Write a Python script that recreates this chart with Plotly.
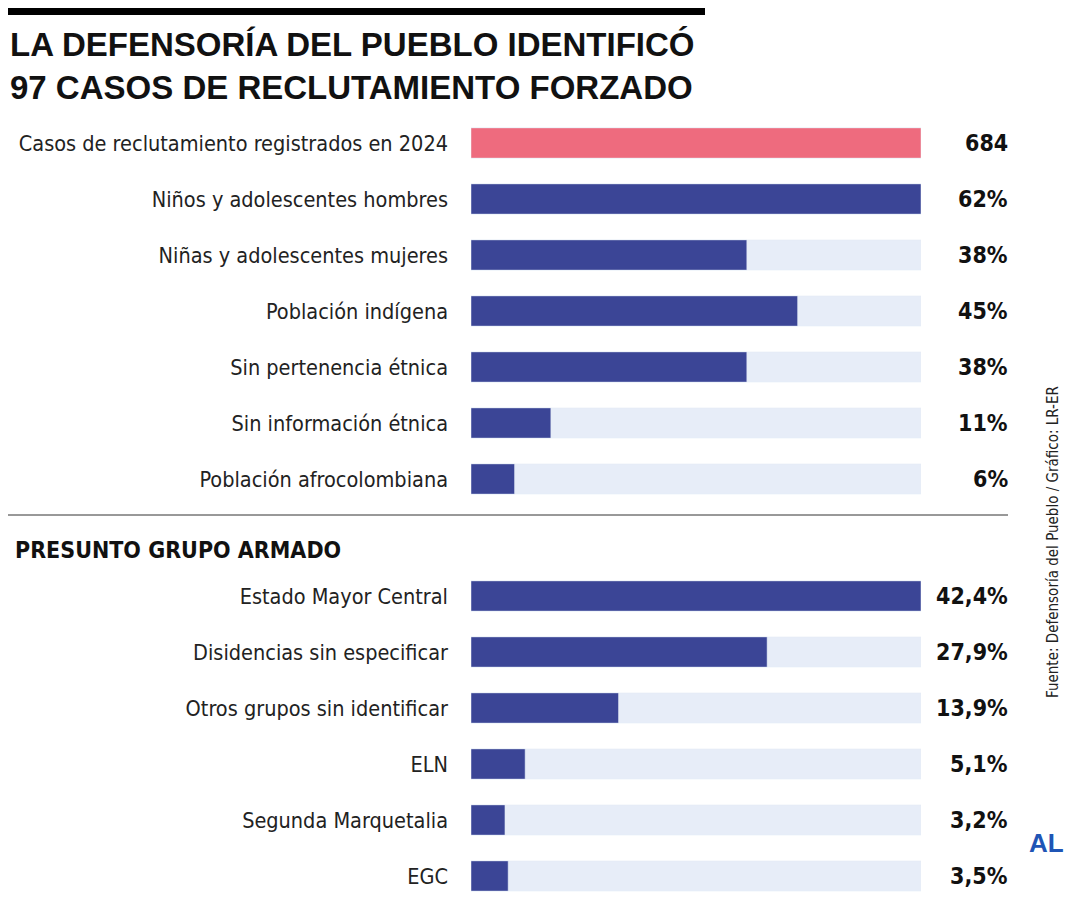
import plotly.graph_objects as go

cats1 = ["Casos de reclutamiento registrados en 2024", "Niños y adolescentes hombres",
         "Niñas y adolescentes mujeres", "Población indígena", "Sin pertenencia étnica",
         "Sin información étnica", "Población afrocolombiana"]
vals1 = [62, 62, 38, 45, 38, 11, 6]
labels1 = ["684", "62%", "38%", "45%", "38%", "11%", "6%"]
cats2 = ["Estado Mayor Central", "Disidencias sin especificar", "Otros grupos sin identificar",
         "ELN", "Segunda Marquetalia", "EGC"]
vals2 = [42.4, 27.9, 13.9, 5.1, 3.2, 3.5]
labels2 = ["42,4%", "27,9%", "13,9%", "5,1%", "3,2%", "3,5%"]

NAVY = "#3B4596"; PINK = "#EE6B7E"; TRACK = "#E7EDF8"
FONT = "DejaVu Sans Condensed"
W, H = 1080, 900
OFF = 8
def px(x): return (x - OFF) / W
def py(y): return 1 - (y - OFF) / H

fig = go.Figure()
def add(cats, vals, labels, xa, ya, maxv, colors):
    idx = list(range(len(cats)))
    fig.add_trace(go.Bar(y=idx, x=[maxv]*len(cats), orientation="h", marker_color=TRACK,
                         width=0.54, xaxis=xa, yaxis=ya, hoverinfo="skip", showlegend=False))
    fig.add_trace(go.Bar(y=idx, x=vals, orientation="h", marker_color=colors,
                         width=0.54, xaxis=xa, yaxis=ya, showlegend=False))
    for i, t in zip(idx, labels):
        fig.add_annotation(x=1.0, xref="x domain" if xa == "x" else "x2 domain", y=i, yref=ya,
                           text=f"<b>{t}</b>", showarrow=False, xanchor="right", xshift=89,
                           font=dict(family=FONT, size=23, color="#111"))

add(cats1, vals1, labels1, "x", "y", 62, [PINK] + [NAVY]*6)
add(cats2, vals2, labels2, "x2", "y2", 42.4, [NAVY]*6)

ax = dict(domain=[px(471), px(921)], visible=False, fixedrange=True, automargin=False)
tf = dict(family=FONT, size=21.5, color="#222")
bot = py(904)
fig.update_layout(
    width=W, height=H, margin=dict(l=0, r=0, t=0, b=0, autoexpand=False), barmode="overlay",
    paper_bgcolor="white", plot_bgcolor="white",
    xaxis=dict(ax, range=[0, 62]), xaxis2=dict(ax, range=[0, 42.4], anchor="y2"),
    yaxis=dict(domain=[py(507), py(115)], range=[6.5, -0.5], tickvals=list(range(7)),
               ticktext=cats1, showgrid=False, zeroline=False, ticklabelstandoff=22, tickfont=tf,
               automargin=False),
    yaxis2=dict(domain=[bot, py(568)], range=[5.5, -0.5], tickvals=list(range(6)),
                ticktext=cats2, showgrid=False, zeroline=False, ticklabelstandoff=22,
                tickfont=tf, anchor="x2", automargin=False),
)
fig.add_shape(type="rect", xref="paper", yref="paper", x0=0, x1=px(705), y0=1 - 7/H, y1=1,
              fillcolor="black", line_width=0)
fig.add_shape(type="line", xref="paper", yref="paper", x0=0, x1=px(1008), y0=py(515), y1=py(515),
              line=dict(color="#333", width=1))
fig.add_annotation(xref="paper", yref="paper", x=0, y=py(24), xanchor="left", yanchor="top",
                   align="left", showarrow=False,
                   text="<b>LA DEFENSORÍA DEL PUEBLO IDENTIFICÓ<br>97 CASOS DE RECLUTAMIENTO FORZADO</b>",
                   font=dict(family="Liberation Sans", size=33, color="#111"))
fig.add_annotation(xref="paper", yref="paper", x=px(13), y=py(550), xanchor="left", yanchor="middle",
                   showarrow=False, text="<b>PRESUNTO GRUPO ARMADO</b>",
                   font=dict(family=FONT, size=23, color="#111"))
fig.add_annotation(xref="paper", yref="paper", x=px(1064), y=py(700), textangle=-90,
                   showarrow=False, text="Fuente: Defensoría del Pueblo / Gráfico: LR-ER",
                   font=dict(family=FONT, size=15, color="#222"))
fig.add_annotation(xref="paper", yref="paper", x=px(1066), y=py(860), showarrow=False,
                   text="<b>AL</b>", font=dict(family="Liberation Sans", size=26, color="#1F55B5"))
fig.write_html("out.html")
